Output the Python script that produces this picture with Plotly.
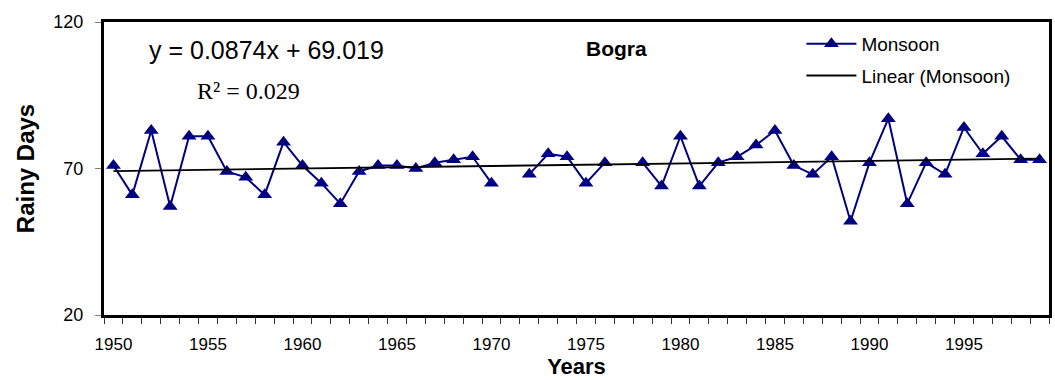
import plotly.graph_objects as go

years = list(range(1950, 2000))
monsoon_days = [71, 61, 83, 57, 81, 81, 69, 67, 61, 79,
                71, 65, 58, 69, 71, 71, 70, 72, 73, 74,
                65, None, 68, 75, 74, 65, 72, None, 72, 64,
                81, 64, 72, 74, 78, 83, 71, 68, 74, 52,
                72, 87, 58, 72, 68, 84, 75, 81, 73, 73]
trend_slope = 0.0874
trend_intercept = 69.019
r_squared = 0.029
x_tick_years = [1950, 1955, 1960, 1965, 1970, 1975, 1980, 1985, 1990, 1995]
y_ticks = [20, 70, 120]

trend = [trend_slope * (i + 1) + trend_intercept for i in range(len(years))]

NAVY = "#000080"
fig = go.Figure()
fig.add_trace(go.Scatter(
    x=years, y=monsoon_days, mode="lines+markers", name="Monsoon",
    line=dict(color=NAVY, width=2),
    marker=dict(symbol="triangle-up", size=13, color=NAVY),
    connectgaps=False, legendgroup="a"))
fig.add_trace(go.Scatter(
    x=years, y=trend, mode="lines", name="Linear (Monsoon)",
    line=dict(color="black", width=1.8), legendgroup="b"))

fig.update_layout(
    width=1055, height=380,
    margin=dict(l=104, r=3, t=22, b=65),
    paper_bgcolor="white", plot_bgcolor="white",
    font=dict(family="Arial, Liberation Sans", color="black"),
    showlegend=True,
    legend=dict(x=0.738, y=0.99, xanchor="left", yanchor="top",
                font=dict(size=19), bgcolor="rgba(0,0,0,0)",
                tracegroupgap=4, itemwidth=50),
    xaxis=dict(range=[1949.5, 1999.5], tickvals=x_tick_years,
               ticks="", tickfont=dict(size=17), ticklabelstandoff=12,
               showline=True, linewidth=3, linecolor="black", mirror=True,
               showgrid=False, zeroline=False,
               minor=dict(ticks="outside", tick0=1949.5, dtick=1, ticklen=6,
                          tickcolor="#333333", tickwidth=1, showgrid=False),
               title=dict(text="<b>Years</b>", font=dict(size=22), standoff=0)),
    yaxis=dict(range=[20, 120], tickvals=y_ticks, ticks="outside", ticklen=6,
               tickcolor="#808080", tickfont=dict(size=18), ticklabelstandoff=8,
               showline=True, linewidth=3, linecolor="black", mirror=True,
               showgrid=False, zeroline=False,
               title=dict(text="<b>Rainy Days</b>", font=dict(size=24), standoff=12)),
)

fig.add_annotation(xref="paper", yref="paper", x=0.045, y=0.904,
                   xanchor="left", yanchor="middle", showarrow=False,
                   text=f"y = {trend_slope}x + {trend_intercept}",
                   font=dict(size=25, family="Arial, Liberation Sans"))
fig.add_annotation(xref="paper", yref="paper", x=0.096, y=0.765,
                   xanchor="left", yanchor="middle", showarrow=False,
                   text=f"R² = {r_squared}",
                   font=dict(size=24, family="Times New Roman, Liberation Serif"))
fig.add_annotation(xref="paper", yref="paper", x=0.542, y=0.911,
                   xanchor="center", yanchor="middle", showarrow=False,
                   text="<b>Bogra</b>",
                   font=dict(size=21, family="Arial, Liberation Sans"))

fig.write_html("out.html")
